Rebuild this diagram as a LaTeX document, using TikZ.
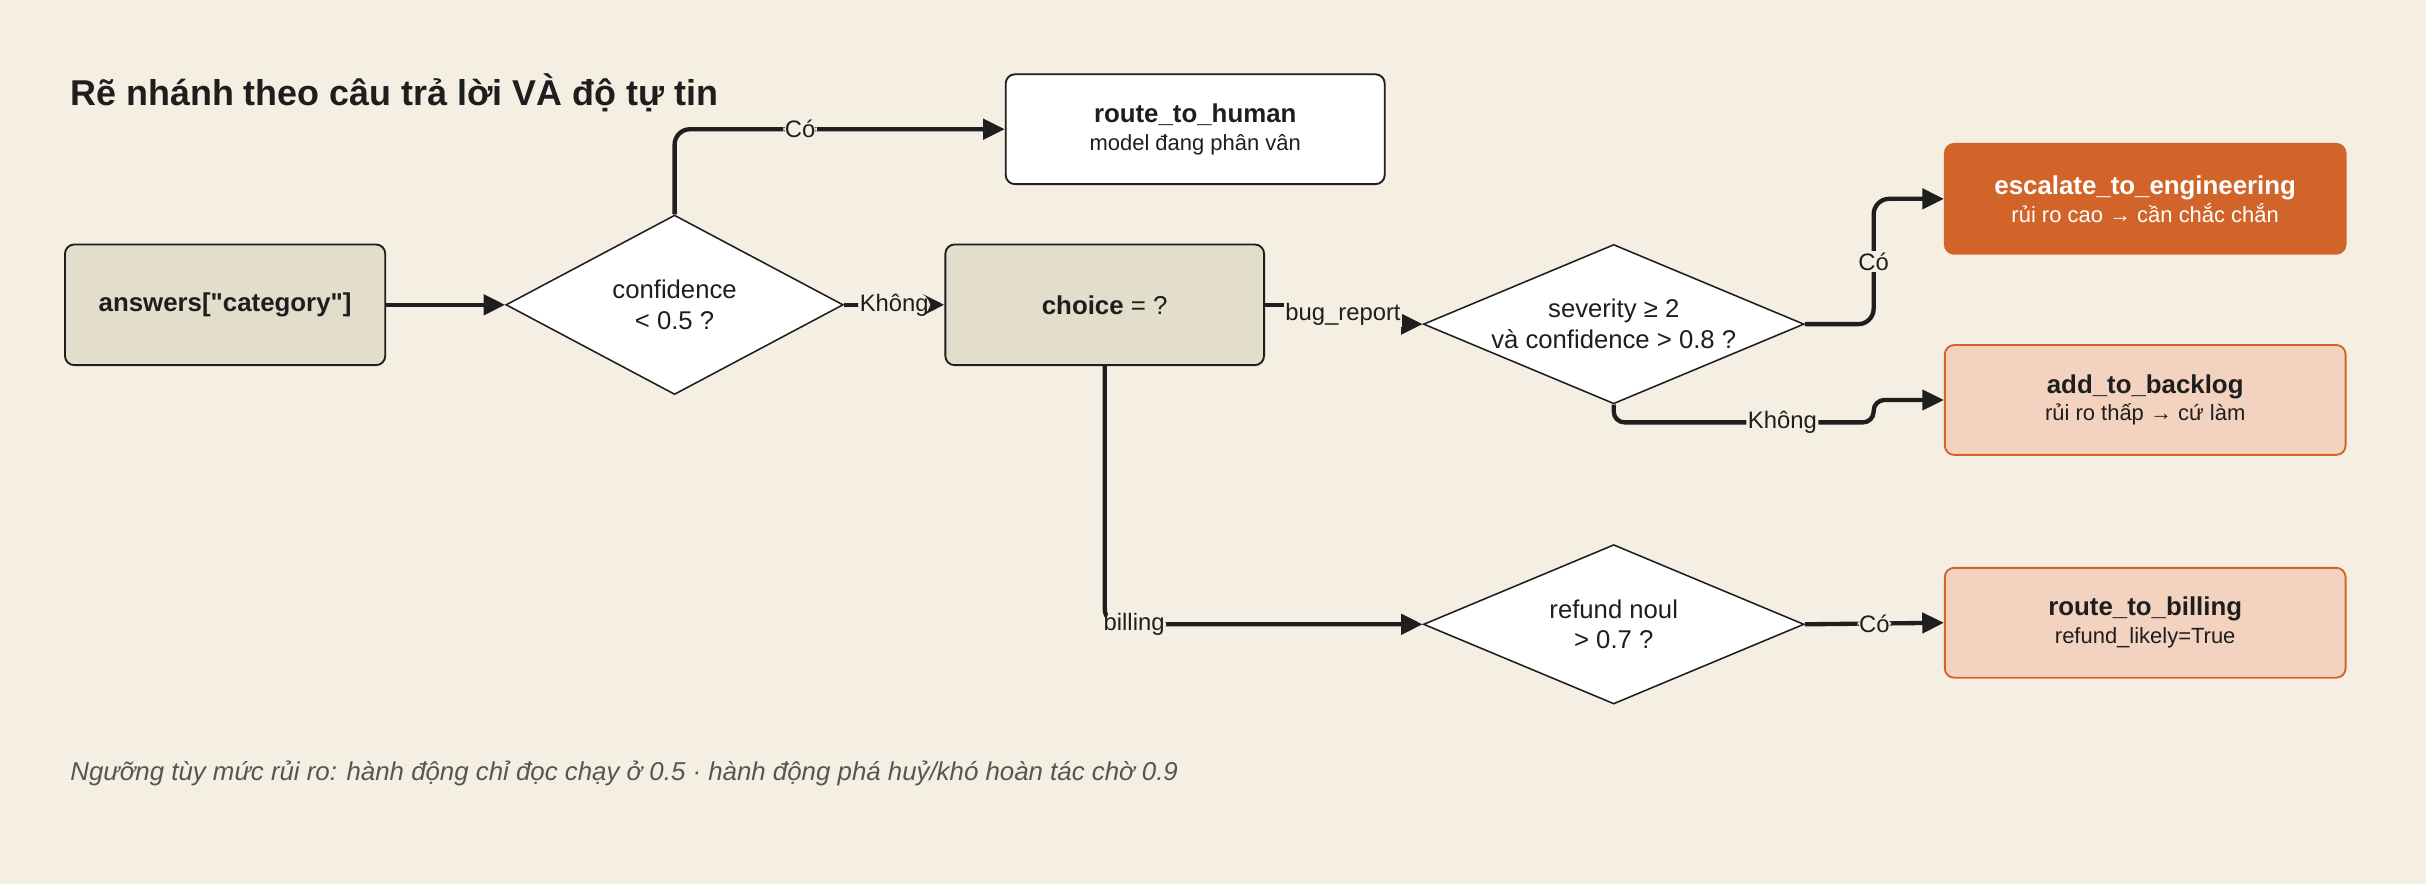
\documentclass[tikz,border=0pt]{standalone}
\usepackage{fontspec}
\setmainfont{Liberation Sans}
\usetikzlibrary{shapes.geometric,arrows.meta}
\definecolor{bgcol}{HTML}{F5EFE3}
\definecolor{inkcol}{HTML}{1E1E1E}
\definecolor{sandcol}{HTML}{E3DDCC}
\definecolor{rustcol}{HTML}{D2642A}
\definecolor{peachcol}{HTML}{F3D3BF}
\definecolor{notecol}{HTML}{555555}
\newcommand{\nodehead}[1]{{\fontsize{16.7}{18}\selectfont\bfseries #1}}
\newcommand{\nodesub}[1]{{\fontsize{14.2}{18}\selectfont #1}}

\begin{document}
\begin{tikzpicture}[x=1pt,y=-1pt,
			boxnode/.style={draw=inkcol, line width=1.2pt, rounded corners=6pt, align=center, text=inkcol, minimum width=259pt, minimum height=71pt, inner sep=0pt, font=\fontsize{14.2}{18}\selectfont},
			sandnode/.style={boxnode, fill=sandcol, minimum width=207pt, minimum height=78pt},
			hotnode/.style={boxnode, draw=rustcol, fill=rustcol, text=white},
			softnode/.style={boxnode, draw=rustcol, fill=peachcol},
			decnode/.style={diamond, draw=inkcol, line width=1pt, fill=white, align=center, text=inkcol, inner sep=0pt, font=\fontsize{16.6}{20}\selectfont},
			arr/.style={-{Triangle[length=14pt,width=13pt]}, line width=2.8pt, draw=inkcol, rounded corners=10pt},
			lbl/.style={fill=bgcol, text=inkcol, inner sep=1pt, font=\fontsize{15.4}{17}\selectfont}
		]
		\fill[bgcol] (0,0) rectangle (1568,571.4);
		\useasboundingbox (0,0) rectangle (1568,571.4);

		\node[anchor=west, text=inkcol, font=\fontsize{23.2}{27}\selectfont\bfseries] (title) at (42,60) {Rẽ nhánh theo câu trả lời VÀ độ tự tin};

		\node[sandnode] (answers) at (145.5,197) {\nodehead{answers[\textquotedbl category\textquotedbl]}};
		\node[decnode, shape aspect=1.88, minimum width=218pt, minimum height=116pt] (conf) at (436,197) {confidence\\< 0.5 ?};
		\node[boxnode, fill=white, minimum width=245pt] (human) at (772.5,83.5) {\nodehead{route\_to\_human}\\\nodesub{model đang phân vân}};
		\node[sandnode, minimum width=206pt] (choice) at (714,197) {\nodehead{choice}{\fontsize{16.7}{18}\selectfont{} = ?}};

		\node[decnode, shape aspect=2.39, minimum width=246pt, minimum height=103pt] (sev) at (1043,209.5) {severity ≥ 2\\và confidence > 0.8 ?};
		\node[decnode, shape aspect=2.39, minimum width=246pt, minimum height=103pt] (refund) at (1043,403.5) {refund noul\\> 0.7 ?};

		\node[hotnode] (esc) at (1386.5,128.5) {\nodehead{escalate\_to\_engineering}\\\nodesub{rủi ro cao → cần chắc chắn}};
		\node[softnode] (backlog) at (1386.5,258.5) {\nodehead{add\_to\_backlog}\\\nodesub{rủi ro thấp → cứ làm}};
		\node[softnode] (billing) at (1386.5,402.5) {\nodehead{route\_to\_billing}\\\nodesub{refund\_likely=True}};

		\draw[arr] (answers.east) -- (conf.west);
		\draw[arr] (conf.north) |- node[lbl, pos=0.69] {Có} (human.west);
		\draw[arr] (conf.east) -- node[lbl] {Không} (choice.west);
		\draw[arr, sharp corners] (choice.east) -| (868,203) node[lbl] {bug\_report} |- (sev.west);
		\draw[arr] (choice.south) |- (733,403.5) node[lbl] {billing} -- (refund.west);
		\draw[arr] (sev.east) -| (1211,169) node[lbl] {Có} |- (esc.west);
		\draw[arr, rounded corners=7pt] (sev.south) |- (1152,273) node[lbl] {Không} -| (1211,258.5) -- (backlog.west);
		\draw[arr] (refund.east) -- node[lbl] {Có} (billing.west);

		\node[anchor=west, text=notecol, font=\fontsize{16.7}{19}\selectfont\itshape] (note) at (42,500) {Ngưỡng tùy mức rủi ro: hành động chỉ đọc chạy ở 0.5 · hành động phá huỷ/khó hoàn tác chờ 0.9};
	\end{tikzpicture}
\end{document}
